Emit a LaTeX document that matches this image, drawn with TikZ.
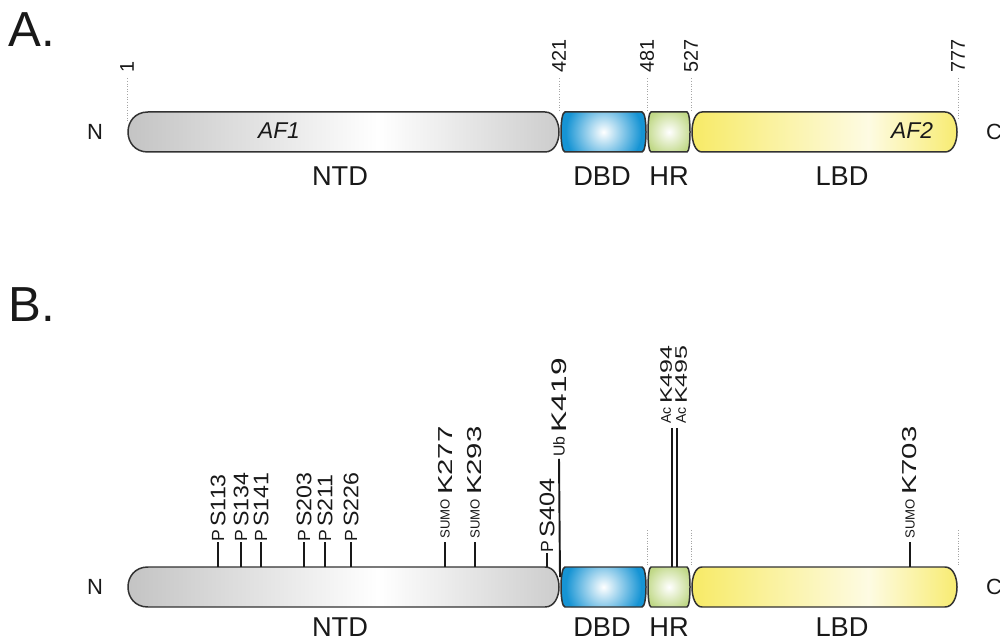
\documentclass[tikz,border=0pt]{standalone}
\usepackage{fontspec}
\setmainfont{Liberation Sans}
\usepackage{graphicx}
\usetikzlibrary{positioning}
\definecolor{ntdgray}{RGB}{194,194,194}
\definecolor{dbdblue}{RGB}{22,148,212}
\definecolor{hrgreen}{RGB}{192,216,134}
\definecolor{lbdyellow}{RGB}{247,234,100}
\definecolor{edgegray}{RGB}{50,50,50}
\definecolor{inkblack}{RGB}{25,25,25}
\pgfdeclarehorizontalshading{ntdshade}{100bp}{color(0bp)=(ntdgray); color(25bp)=(ntdgray); color(54bp)=(white); color(75bp)=(ntdgray!85); color(100bp)=(ntdgray!85)}
\pgfdeclarehorizontalshading{lbdshade}{100bp}{color(0bp)=(lbdyellow); color(25bp)=(lbdyellow); color(58bp)=(lbdyellow!18); color(75bp)=(lbdyellow!95); color(100bp)=(lbdyellow!95)}
% domain outline: left x, right x, centre y, left bulge, right bulge
\newcommand{\domainshape}[5]{({#1+#4},{#3-20}) -- ({#2-#5},{#3-20}) .. controls ({#2+#5/3},{#3-20}) and ({#2+#5/3},{#3+20}) .. ({#2-#5},{#3+20}) -- ({#1+#4},{#3+20}) .. controls ({#1-#4/3},{#3+20}) and ({#1-#4/3},{#3-20}) .. cycle}
% domain with a round glow: left x, right x, centre y, bulge, colour, glow radius
\newcommand{\glowdomain}[6]{
  \begin{scope}
    \clip \domainshape{#1}{#2}{#3}{#4}{#4};
    \fill[#5] (#1,{#3-22}) rectangle (#2,{#3+22});
    \shade[inner color=white, outer color=#5] ({(#1+#2)/2},#3) circle (#6);
  \end{scope}
  \path[domainedge] \domainshape{#1}{#2}{#3}{#4}{#4};
}
\newcommand{\sitetag}[3]{{\fontsize{#1}{#1}\selectfont\scalebox{#2}[1]{#3}}}
\tikzset{
  domainedge/.style={draw=edgegray, line width=0.85pt},
  domainlab/.style={font=\fontsize{15.5pt}{15.5pt}\selectfont, text=inkblack},
  endlab/.style={font=\fontsize{12.5pt}{12.5pt}\selectfont, text=inkblack},
  poslab/.style={rotate=90, anchor=west, inner sep=0pt, font=\fontsize{11.3pt}{11.3pt}\selectfont, text=inkblack},
  modlab/.style={rotate=90, anchor=west, inner sep=0pt, text=inkblack},
  sitelab/.style={rotate=90, anchor=west, inner sep=0pt, text=inkblack},
  guide/.style={draw=gray!70, line width=0.4pt, dash pattern=on 0.6pt off 0.9pt},
  stem/.style={draw=inkblack, line width=1.3pt},
  thinstem/.style={draw=inkblack, line width=1.1pt},
  panellab/.style={anchor=base west, inner sep=0pt, font=\fontsize{28pt}{28pt}\selectfont, text=inkblack}
}
\begin{document}
\begin{tikzpicture}[x=0.02cm, y=-0.02cm]
\useasboundingbox (0,0) rectangle (1000,641);
\fill[white] (0,0) rectangle (1000,641);

%% A. domain map
\node[panellab] (pa) at (8,47) {A.};
\path[domainedge, shading=ntdshade] \domainshape{128}{559}{132}{20}{14};
\glowdomain{561}{646}{132}{4}{dbdblue}{38}
\glowdomain{648}{690}{132}{3}{hrgreen}{24}
\path[domainedge, shading=lbdshade] \domainshape{692}{957}{132}{10}{12};
\node[endlab] (na) at (95,132) {N};
\node[endlab] (ca) at (994,132) {C};
\node[domainlab, font=\fontsize{13pt}{13pt}\itshape] (af1) at (279,131) {AF1};
\node[domainlab, font=\fontsize{13pt}{13pt}\itshape] (af2) at (912,131) {AF2};
\foreach \x/\lab/\y in {127/1/122, 559/421/112, 647/481/112, 691/527/112, 958/777/118}{
  \coordinate (ga\lab) at (\x,\y);
  \node[poslab] (pos\lab) at (\x,73) {\lab};
  \draw[guide] ([yshift=-3pt]pos\lab.west) -- (ga\lab);
}
\foreach \x/\name in {340/NTD, 602/DBD, 669/HR, 842/LBD}
  \node[domainlab] (a\name) at (\x,176) {\name};

%% B. modification sites
\node[panellab] (pb) at (8,322) {B.};
\path[domainedge, shading=ntdshade] \domainshape{128}{559}{587}{20}{14};
\glowdomain{561}{646}{587}{4}{dbdblue}{38}
\glowdomain{648}{690}{587}{3}{hrgreen}{24}
\path[domainedge, shading=lbdshade] \domainshape{692}{957}{587}{10}{12};
\node[endlab] (nb) at (95,587) {N};
\node[endlab] (cb) at (994,587) {C};
\foreach \x/\name in {340/NTD, 602/DBD, 669/HR, 842/LBD}
  \node[domainlab] (b\name) at (\x,627) {\name};
\foreach \x in {647, 691, 958}
  \draw[guide] (\x,530) coordinate (gt\x) -- (\x,566) coordinate (gb\x);

% phosphorylation
\foreach \x/\res in {218/113, 241/134, 261/141, 304/203, 325/211, 351/226}{
  \coordinate (bar\res) at (\x,567);
  \node[modlab, font=\fontsize{10pt}{10pt}\selectfont] (m\res) at (\x,542) {P};
  \node[sitelab] (s\res) at ([yshift=1.5pt]m\res.east) {\sitetag{12pt}{1.1}{S\res}};
  \draw[stem] (bar\res) -- (m\res.west);
}
\coordinate (bar404) at (547,567);
\node[modlab, font=\fontsize{10pt}{10pt}\selectfont] (m404) at (547,553) {P};
\node[sitelab] (s404) at ([yshift=1.5pt]m404.east) {\sitetag{12pt}{1.2}{S404}};
\draw[stem] (bar404) -- (m404.west);

% sumoylation
\foreach \x/\res in {445/277, 475/293, 910/703}{
  \coordinate (bar\res) at (\x,567);
  \node[modlab, font=\fontsize{7.5pt}{7.5pt}\selectfont] (m\res) at (\x,539) {SUMO};
  \node[sitelab] (s\res) at ([yshift=2pt]m\res.east) {\sitetag{11.5pt}{1.45}{K\res}};
  \draw[stem] (bar\res) -- ([yshift=-1.5pt]m\res.west);
}

% ubiquitination
\coordinate (bar419) at (560,577);
\node[modlab, font=\fontsize{9pt}{9pt}\selectfont] (m419) at (559,457) {Ub};
\node[sitelab] (s419) at ([yshift=2pt]m419.east) {\sitetag{12pt}{1.5}{K419}};
\draw[thinstem] (bar419) -- ([yshift=-1pt]m419.west);

% acetylation
\foreach \x/\lx/\res in {672/666/494, 677/681/495}{
  \coordinate (bar\res) at (\x,567);
  \coordinate (top\res) at (\x,428);
  \node[modlab, font=\fontsize{8pt}{8pt}\selectfont] (m\res) at (\lx,424) {Ac};
  \node[sitelab] (s\res) at ([yshift=1.5pt]m\res.east) {\sitetag{9.5pt}{1.5}{K\res}};
  \draw[thinstem] (bar\res) -- (top\res);
}
\end{tikzpicture}
\end{document}
